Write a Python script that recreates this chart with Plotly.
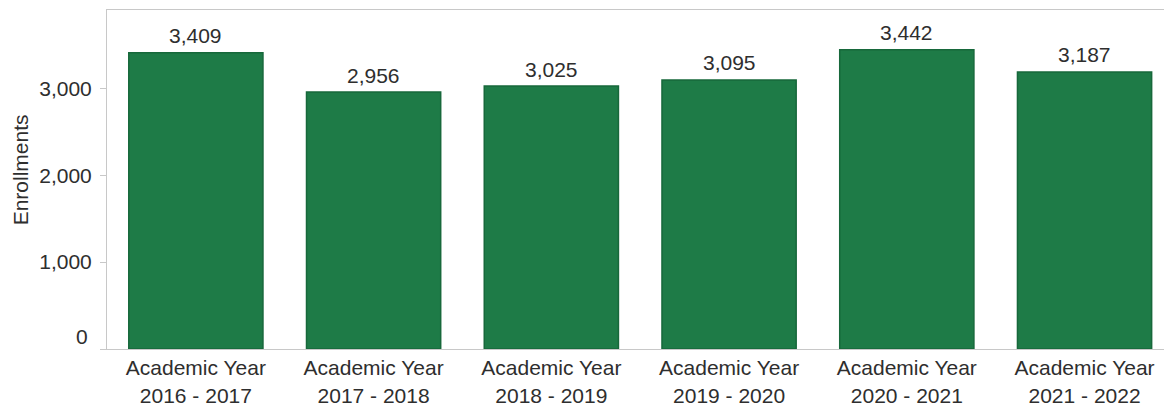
import plotly.graph_objects as go

# Enrollments per academic year
years = ["2016 - 2017", "2017 - 2018", "2018 - 2019", "2019 - 2020", "2020 - 2021", "2021 - 2022"]
enrollments = [3409, 2956, 3025, 3095, 3442, 3187]
y_ticks = [0, 1000, 2000, 3000]

categories = list(range(len(years)))
tick_text = ["Academic Year<br>" + y for y in years]

FONT = "Arial, Liberation Sans, sans-serif"
TEXT_COLOR = "#2e2e2e"
BAR_COLOR = "#1e7b47"
BAR_EDGE = "#17683b"
AXIS_COLOR = "#c8c8c8"

fig = go.Figure()
fig.add_trace(go.Bar(
    x=categories,
    y=enrollments,
    width=0.755,
    marker=dict(color=BAR_COLOR, line=dict(color=BAR_EDGE, width=1.5)),
    hoverinfo="skip",
))

annotations = []
# value labels above each bar
for c, v in zip(categories, enrollments):
    annotations.append(dict(
        x=c, y=v, xref="x", yref="y",
        text=f"{v:,}", showarrow=False,
        yanchor="middle", yshift=17,
        font=dict(family=FONT, size=21, color=TEXT_COLOR),
    ))

# bottom y label sits slightly above its tick
annotations.append(dict(
    x=0, y=0, xref="paper", yref="y",
    text="0", showarrow=False,
    xanchor="right", yanchor="middle", xshift=-17, yshift=13,
    font=dict(family=FONT, size=21, color=TEXT_COLOR),
))

# y axis title
annotations.append(dict(
    x=-87 / 1057, y=(352.5 - 172) / 342.5, xref="paper", yref="paper",
    text="Enrollments", showarrow=False, textangle=-90,
    xanchor="center", yanchor="middle",
    font=dict(family=FONT, size=21, color=TEXT_COLOR),
))

fig.update_layout(
    width=1164, height=407,
    margin=dict(l=107, r=0, t=10, b=54.5),
    paper_bgcolor="white", plot_bgcolor="white",
    showlegend=False,
    annotations=annotations,
    xaxis=dict(
        range=[-0.5, 5.447],
        tickmode="array", tickvals=categories, ticktext=tick_text,
        tickfont=dict(family=FONT, size=21, color=TEXT_COLOR),
        showline=True, linecolor=AXIS_COLOR, linewidth=1, mirror=True,
        showgrid=False, zeroline=False, ticks="",
        fixedrange=True,
    ),
    yaxis=dict(
        range=[0, 3900],
        tickmode="array", tickvals=y_ticks,
        ticktext=["" if t == 0 else f"{t:,}" for t in y_ticks],
        tickfont=dict(family=FONT, size=21, color=TEXT_COLOR),
        ticks="outside", ticklen=6, tickcolor=AXIS_COLOR,
        ticklabelstandoff=4,
        showline=True, linecolor=AXIS_COLOR, linewidth=1,
        showgrid=False, zeroline=False,
        fixedrange=True,
    ),
)

fig.write_html("out.html")
